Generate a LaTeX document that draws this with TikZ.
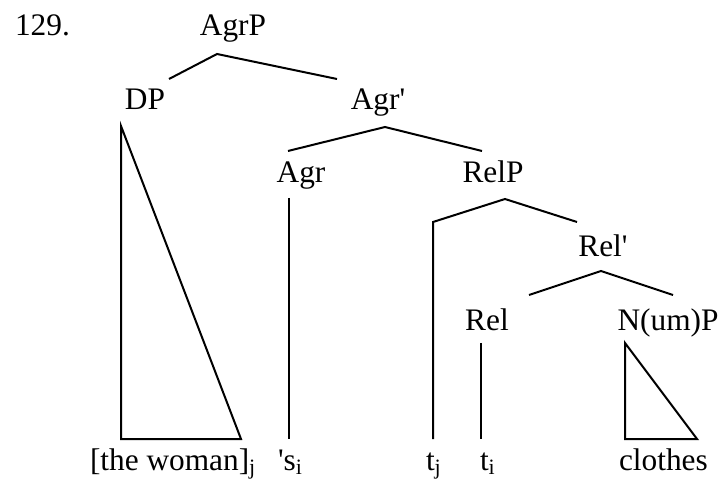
\documentclass[tikz,border=0pt]{standalone}
\usepackage{fontspec}
\setmainfont{Liberation Serif}
\begin{document}
\begin{tikzpicture}[x=0.75pt, y=-0.75pt, line width=1.5pt, line join=miter,
    lab/.style = {anchor=base, inner sep=0pt, font=\fontsize{23.5}{28}\selectfont},
    word/.style = {lab, anchor=base west}]
\useasboundingbox (0,0) rectangle (721,484);
% labels
\node[word] (ex) at (14,36) {129.};
\node[lab] (AgrP) at (233,36) {AgrP};
\node[lab] (DP) at (145,110) {DP};
\node[lab] (Agrbar) at (378,110) {Agr\textquotesingle};
\node[lab] (Agr) at (301,183) {Agr};
\node[lab] (RelP) at (493,183) {RelP};
\node[lab] (Relbar) at (603,257) {Rel\textquotesingle};
\node[lab] (Rel) at (487,331) {Rel};
\node[lab] (NumP) at (668,331) {N(um)P};
% terminals
\node[word] (woman) at (89,470) {[the woman]\textsubscript{j}};
\node[word] (s) at (277,470) {\textquotesingle s\textsubscript{i}};
\node[word] (tj) at (425,470) {t\textsubscript{j}};
\node[word] (ti) at (479,470) {t\textsubscript{i}};
\node[word] (clothes) at (618,470) {clothes};
% branch points
\coordinate (AgrP-b) at (217,54);
\coordinate (DP-t) at (169,79);
\coordinate (Agrbar-t) at (337,79);
\coordinate (Agrbar-b) at (385,127);
\coordinate (Agr-t) at (288,151);
\coordinate (RelP-t) at (482,151);
\coordinate (RelP-b) at (505,199);
\coordinate (tj-t) at (433,222);
\coordinate (Relbar-t) at (577,222);
\coordinate (Relbar-b) at (601,271);
\coordinate (Rel-t) at (529,295);
\coordinate (NumP-t) at (673,295);
\draw (DP-t) -- (AgrP-b) -- (Agrbar-t);
\draw (Agr-t) -- (Agrbar-b) -- (RelP-t);
\draw (433,439) -- (tj-t) -- (RelP-b) -- (Relbar-t);
\draw (Rel-t) -- (Relbar-b) -- (NumP-t);
\draw (289,198) -- (289,439);
\draw (481,343) -- (481,439);
\draw (121,126) -- (121,439) -- (241,439) -- cycle;
\draw (625,343) -- (625,439) -- (697,439) -- cycle;
\end{tikzpicture}
\end{document}
